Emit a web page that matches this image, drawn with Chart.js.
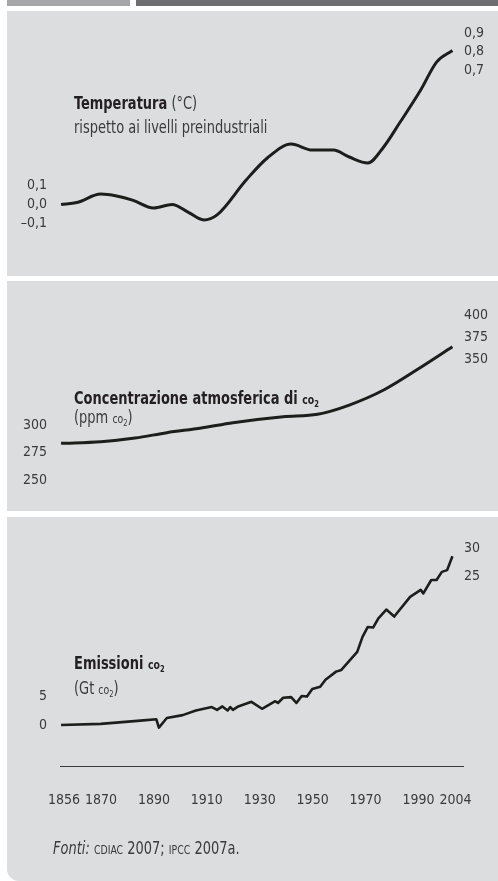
<!DOCTYPE html>
<html>
<head>
<meta charset="utf-8">
<script src="https://cdn.jsdelivr.net/npm/chart.js@4.4.0/dist/chart.umd.min.js"></script>
<style>
    body { margin: 0; width: 498px; height: 881px; position: relative; overflow: hidden; background: #fff;
           font-family: "Liberation Sans Narrow", "Arial Narrow", "DejaVu Sans Condensed", sans-serif; color: #3a3a3a; }
    .bar { position: absolute; top: 0; height: 6px; }
    .panel { position: absolute; left: 7px; right: 0; background: #dcdddf; }
    canvas { position: absolute; left: 0; }
    .txt { position: absolute; left: 74px; font-size: 17px; line-height: 20px; white-space: nowrap;
           transform: scaleX(0.85); transform-origin: 0 50%; }
    .txt b { color: #231f20; }
    .sc { font-size: 0.72em; }
    sub { font-size: 0.72em; vertical-align: -0.3em; line-height: 0; }
</style>
</head>
<body>
<div class="bar" style="left:7px;width:123px;background:#a5a6a8"></div>
<div class="bar" style="left:136px;right:0;background:#6e6f71"></div>

<div class="panel" style="top:11px;height:265px"></div>
<div class="panel" style="top:281px;height:230px"></div>
<div class="panel" style="top:517px;height:364px;border-bottom-left-radius:12px"></div>

<canvas id="tempChart" width="498" height="265" style="top:11px"></canvas>
<canvas id="co2Chart" width="498" height="230" style="top:281px"></canvas>
<canvas id="emiChart" width="498" height="364" style="top:517px"></canvas>

<div class="txt" style="top:93px"><b>Temperatura</b> (°C)</div>
<div class="txt" style="top:117px">rispetto ai livelli preindustriali</div>
<div class="txt" style="top:388px"><b>Concentrazione atmosferica di <span class="sc">co<sub>2</sub></span></b></div>
<div class="txt" style="top:407px">(ppm <span class="sc">co<sub>2</sub></span>)</div>
<div class="txt" style="top:653px"><b>Emissioni <span class="sc">co<sub>2</sub></span></b></div>
<div class="txt" style="top:678px">(Gt <span class="sc">co<sub>2</sub></span>)</div>
<div class="txt" style="top:838px;left:53px"><i>Fonti:</i> <span class="sc">CDIAC</span> 2007; <span class="sc">IPCC</span> 2007a.</div>

<script>
const yearTicks = [1856, 1870, 1890, 1910, 1930, 1950, 1970, 1990, 2004];

// temperatura rispetto ai livelli preindustriali (°C)
const tempYears = [1856, 1862, 1871, 1877, 1883, 1891, 1898, 1904, 1910, 1915, 1926, 1934, 1943, 1951, 1959, 1965, 1972, 1978, 1984, 1992, 1998, 2004];
const tempValues = [0.0, 0.01, 0.054, 0.044, 0.023, -0.018, 0.0, -0.039, -0.08, -0.054, 0.127, 0.241, 0.313, 0.282, 0.282, 0.246, 0.215, 0.298, 0.422, 0.593, 0.738, 0.798];
const tempLeftTicks = [-0.1, 0, 0.1];
const tempRightTicks = [0.7, 0.8, 0.9];

// concentrazione atmosferica di CO2 (ppm)
const co2Years = [1856, 1871, 1884, 1896, 1909, 1921, 1940, 1953, 1965, 1978, 1991, 2004];
const co2Values = [283.6, 285.1, 288.5, 293.4, 297.7, 302.6, 308.1, 310.3, 318.8, 332.6, 351.9, 372.4];
const co2LeftTicks = [250, 275, 300];
const co2RightTicks = [350, 375, 400];

// emissioni CO2 (Gt CO2)
const emiYears = [1856, 1871, 1886, 1892, 1893, 1896, 1902, 1907, 1913, 1915, 1917, 1919, 1920, 1921, 1923, 1928, 1932, 1937, 1938, 1940, 1943, 1945, 1947, 1949, 1951, 1954, 1956, 1960, 1962, 1968, 1970, 1972, 1974, 1976, 1979, 1982, 1988, 1992, 1993, 1996, 1998, 2000, 2002, 2004];
const emiValues = [0.0, 0.2, 0.75, 1.0, -0.45, 1.2, 1.7, 2.5, 3.1, 2.6, 3.2, 2.5, 3.1, 2.6, 3.2, 4.0, 2.8, 4.1, 3.8, 4.7, 4.8, 3.8, 5.0, 4.9, 6.2, 6.6, 7.8, 9.2, 9.5, 12.6, 15.2, 16.9, 16.8, 18.4, 19.9, 18.7, 22.1, 23.3, 22.7, 25.0, 25.0, 26.4, 26.7, 29.1];
const emiLeftTicks = [0, 5];
const emiRightTicks = [25, 30];

Chart.defaults.font.family = '"Liberation Sans Narrow", "Arial Narrow", "DejaVu Sans Condensed", sans-serif';
Chart.defaults.font.size = 14;
Chart.defaults.color = '#3a3a3a';

// value v sits at page pixel px, pxPerUnit pixels per unit, chart area from top with height h
function range(v, px, pxPerUnit, top, h) {
    return { min: v - (top + h - px) / pxPerUnit, max: v + (px - top) / pxPerUnit };
}

function fmtComma(digits) {
    return (val) => {
        const s = Math.abs(val).toFixed(digits).replace('.', ',');
        return val < -1e-9 ? '\u2013' + s : s;
    };
}

function noPad(s) {
    s.paddingTop = 0; s.paddingBottom = 0; s.paddingLeft = 0; s.paddingRight = 0;
}

function yAxis(side, r, tickVals, fmt) {
    return {
        position: side,
        min: r.min, max: r.max,
        grid: { display: false, drawTicks: false },
        border: { display: false },
        afterBuildTicks: (s) => { s.ticks = tickVals.map(v => ({ value: v })); },
        afterFit: (s) => { s.width = side === 'left' ? 60 : 35; noPad(s); },
        ticks: { autoSkip: false, padding: side === 'left' ? 13 : 1, callback: fmt }
    };
}

function makeChart(id, years, values, cfg) {
    const points = years.map((yr, i) => ({ x: yr, y: values[i] }));
    return new Chart(document.getElementById(id), {
        type: 'line',
        data: {
            datasets: [{
                data: points,
                borderColor: '#1d1d1b',
                borderWidth: cfg.lineWidth,
                pointRadius: 0,
                tension: cfg.tension,
                cubicInterpolationMode: cfg.mode,
                borderJoinStyle: 'round',
                clip: false,
                yAxisID: 'y'
            }]
        },
        options: {
            responsive: false,
            animation: false,
            events: [],
            layout: { padding: 0 },
            plugins: { legend: { display: false }, tooltip: { enabled: false } },
            scales: {
                x: {
                    type: 'linear',
                    min: 1855.6, max: 2008,
                    display: cfg.showX,
                    grid: { display: false, drawTicks: false },
                    border: { display: true, color: '#3a3a3a', width: 1 },
                    afterBuildTicks: (s) => { s.ticks = yearTicks.map(v => ({ value: v })); },
                    afterFit: (s) => { s.height = cfg.xHeight || 0; noPad(s); },
                    ticks: { autoSkip: false, maxRotation: 0, padding: 25, labelOffset: 3, callback: (v) => String(v) }
                },
                y: yAxis('left', cfg.left, cfg.leftTicks, cfg.fmt),
                y2: yAxis('right', cfg.right, cfg.rightTicks, cfg.fmt)
            }
        }
    });
}

makeChart('tempChart', tempYears, tempValues, {
    lineWidth: 3, tension: 0.4, mode: 'monotone', showX: false,
    left: range(0, 204.5, 193, 11, 265), leftTicks: tempLeftTicks,
    right: range(0.8, 51.7, 183, 11, 265), rightTicks: tempRightTicks,
    fmt: fmtComma(1)
});

makeChart('co2Chart', co2Years, co2Values, {
    lineWidth: 3, tension: 0.4, mode: 'monotone', showX: false,
    left: range(275, 452.7, 1.088, 281, 230), leftTicks: co2LeftTicks,
    right: range(375, 337.3, 0.888, 281, 230), rightTicks: co2RightTicks,
    fmt: (v) => String(v)
});

makeChart('emiChart', emiYears, emiValues, {
    lineWidth: 2.6, tension: 0, mode: 'default', showX: true, xHeight: 114.3,
    left: range(0, 725, 5.8, 517, 249.7), leftTicks: emiLeftTicks,
    right: range(30, 548.3, 5.68, 517, 249.7), rightTicks: emiRightTicks,
    fmt: (v) => String(v)
});
</script>
</body>
</html>
